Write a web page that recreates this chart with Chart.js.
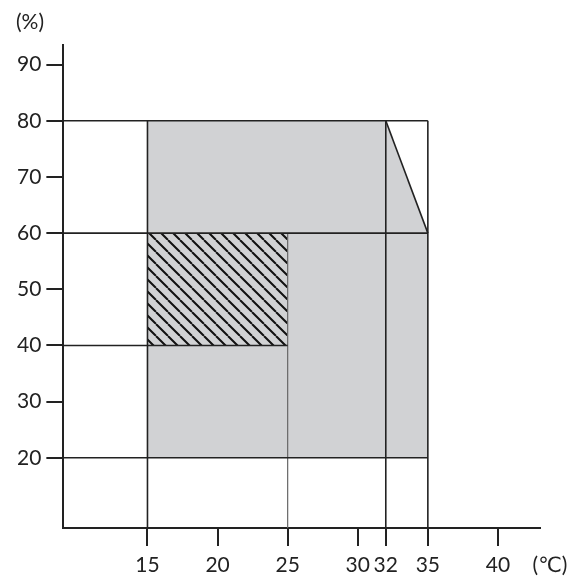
<!DOCTYPE html>
<html>
<head>
<meta charset="utf-8">
<script src="https://cdn.jsdelivr.net/npm/chart.js@4/dist/chart.umd.min.js"></script>
<style>
  html, body { margin: 0; background: #fff; }
  #wrap { width: 571px; height: 576px; }
</style>
</head>
<body>
<div id="wrap"><canvas id="chart"></canvas></div>
<script>
const tempTicks = [15, 20, 25, 30, 32, 35, 40];
const humidityTicks = [20, 30, 40, 50, 60, 70, 80, 90];
const tempMin = 9, tempMax = 43, humMin = 7.5, humMax = 93.5;

// operating range: top edge, filled down to 20 %
const rangeTemp = [15, 32, 35];
const rangeHum = [80, 80, 60];
const rangeFloor = 20;

// recommended range (hatched)
const recTemp = [15, 25];
const recHum = [60, 60];
const recFloor = 40;

// guide lines [x1, y1, x2, y2]
const darkLines = [
    [tempMin, 80, 35, 80],
    [tempMin, 60, 35, 60],
    [tempMin, 40, 25, 40],
    [tempMin, 20, 35, 20],
    [15, humMin, 15, 80],
    [32, humMin, 32, 80],
    [35, humMin, 35, 80],
    [32, 80, 35, 60]
];
const lightLines = [
    [25, humMin, 25, 60]
];

const ink = "#222";
const grey = "#d1d2d4";
const font = { family: "Lato, 'DejaVu Sans', sans-serif", size: 21, lineHeight: 1 };

function hatch() {
    const s = 12;
    const c = document.createElement("canvas");
    c.width = s; c.height = s;
    const g = c.getContext("2d");
    g.fillStyle = grey;
    g.fillRect(0, 0, s, s);
    g.strokeStyle = "#111";
    g.lineWidth = 2;
    g.beginPath();
    for (const o of [-s, 0, s]) {
        g.moveTo(o, 0);
        g.lineTo(o + s, s);
    }
    g.stroke();
    return g.createPattern(c, "repeat");
}

function toPoints(xs, ys) {
    return xs.map((x, i) => ({ x: x, y: ys[i] }));
}

function segment(l, color, width) {
    return {
        data: [{ x: l[0], y: l[1] }, { x: l[2], y: l[3] }],
        showLine: true,
        borderColor: color,
        borderWidth: width,
        pointRadius: 0,
        fill: false,
        order: 1
    };
}

const unitLabels = {
    id: "unitLabels",
    afterDraw(chart) {
        const ctx = chart.ctx;
        ctx.save();
        ctx.font = "21px Lato, 'DejaVu Sans', sans-serif";
        ctx.fillStyle = ink;
        ctx.textAlign = "center";
        ctx.textBaseline = "alphabetic";
        ctx.fillText("(%)", 30, 29);
        ctx.fillText("(℃)", 550, 572);
        ctx.restore();
    }
};

const datasets = [
    {
        data: toPoints(rangeTemp, rangeHum),
        showLine: true,
        borderWidth: 0,
        pointRadius: 0,
        backgroundColor: grey,
        fill: { value: rangeFloor },
        order: 3
    },
    {
        data: toPoints(recTemp, recHum),
        showLine: true,
        borderWidth: 0,
        pointRadius: 0,
        backgroundColor: hatch(),
        fill: { value: recFloor },
        order: 2
    }
];
darkLines.forEach(l => datasets.push(segment(l, ink, 1.6)));
lightLines.forEach(l => datasets.push(segment(l, "#666", 1.2)));

new Chart(document.getElementById("chart"), {
    type: "scatter",
    data: { datasets: datasets },
    options: {
        responsive: true,
        maintainAspectRatio: false,
        animation: false,
        layout: { padding: { left: 12, top: 45, right: 31, bottom: -9 } },
        plugins: { legend: { display: false }, tooltip: { enabled: false } },
        scales: {
            x: {
                type: "linear",
                min: tempMin,
                max: tempMax,
                afterBuildTicks: s => { s.ticks = tempTicks.map(v => ({ value: v })); },
                grid: { drawOnChartArea: false, drawTicks: true, tickLength: 18, color: ink, lineWidth: 2 },
                border: { color: ink, width: 2 },
                ticks: { font: font, color: ink, padding: 9, autoSkip: false, maxRotation: 0 }
            },
            y: {
                type: "linear",
                min: humMin,
                max: humMax,
                afterBuildTicks: s => { s.ticks = humidityTicks.map(v => ({ value: v })); },
                grid: { drawOnChartArea: false, drawTicks: true, tickLength: 17, color: ink, lineWidth: 2 },
                border: { color: ink, width: 2 },
                ticks: { font: font, color: ink, padding: 5 }
            }
        }
    },
    plugins: [unitLabels]
});
</script>
</body>
</html>
